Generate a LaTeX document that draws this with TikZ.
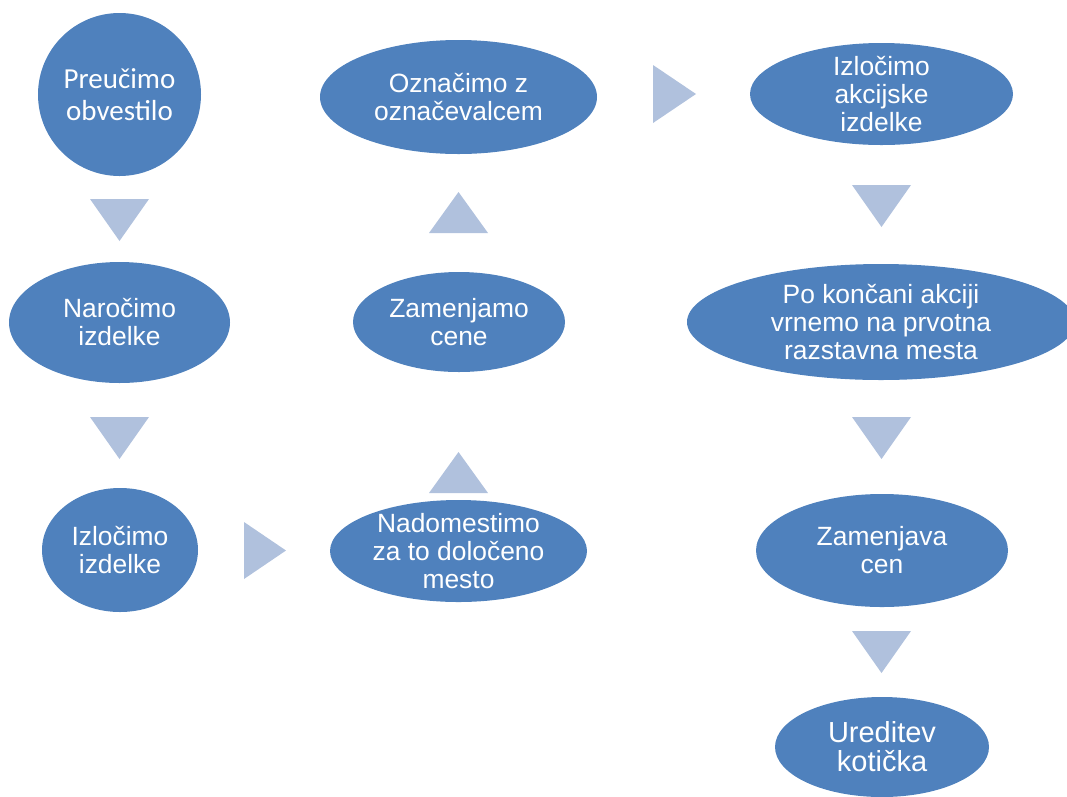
\documentclass[tikz,border=0pt]{standalone}
\usepackage{fontspec}
\setmainfont{Liberation Sans}
\newfontfamily\calib{Carlito}
\usetikzlibrary{shapes.geometric}
\definecolor{blobblue}{RGB}{79,129,189}
\definecolor{arrowblue}{RGB}{176,193,221}
\tikzset{
  blob/.style={ellipse, fill=blobblue, draw=none, inner sep=0pt, outer sep=0pt},
  txt/.style={text=white, align=center, inner sep=0pt, font=\fontsize{26.4}{28}\selectfont},
  tri/.style={fill=arrowblue, draw=none}
}
\begin{document}
\begin{tikzpicture}[x=1pt,y=-1pt]
\useasboundingbox (0,0) rectangle (1067,796);
\clip (0,0) rectangle (1067,796);
% ellipses
\node[blob, minimum width=163, minimum height=163] (n1) at (119.5,94.5) {};
\node[blob, minimum width=221, minimum height=121] (n2) at (119.5,322.5) {};
\node[blob, minimum width=156, minimum height=124] (n3) at (120,550) {};
\node[blob, minimum width=257, minimum height=102] (n4) at (458.5,551) {};
\node[blob, minimum width=212, minimum height=100] (n5) at (459,322) {};
\node[blob, minimum width=277, minimum height=114] (n6) at (458.5,97) {};
\node[blob, minimum width=263, minimum height=102] (n7) at (881.5,94) {};
\node[blob, minimum width=388, minimum height=116] (n8) at (881,322) {};
\node[blob, minimum width=252, minimum height=113] (n9) at (882,550.5) {};
\node[blob, minimum width=214, minimum height=100] (n10) at (882,747) {};
% texts
\node[txt, font=\calib\fontsize{29}{32}\selectfont] (t1) at (n1) {Preučimo\\obvestilo};
\node[txt] (t2) at (n2) {Naročimo\\izdelke};
\node[txt] (t3) at (n3) {Izločimo\\izdelke};
\node[txt] (t4) at (n4) {Nadomestimo\\za to določeno\\mesto};
\node[txt] (t5) at (n5) {Zamenjamo\\cene};
\node[txt] (t6) at (n6) {Označimo z\\označevalcem};
\node[txt] (t7) at (n7) {Izločimo\\akcijske\\izdelke};
\node[txt] (t8) at (n8) {Po končani akciji\\vrnemo na prvotna\\razstavna mesta};
\node[txt] (t9) at (n9) {Zamenjava\\cen};
\node[txt, font=\fontsize{29}{29}\selectfont] (t10) at (n10) {Ureditev\\kotička};
% arrows (triangles)
\fill[tri] (90,199) -- (149,199) -- (119.5,241) -- cycle;
\fill[tri] (90,417) -- (149,417) -- (119.5,459) -- cycle;
\fill[tri] (244,522) -- (286,550.5) -- (244,579) -- cycle;
\fill[tri] (429,493) -- (488,493) -- (458.5,452) -- cycle;
\fill[tri] (429,233) -- (488,233) -- (458.5,192) -- cycle;
\fill[tri] (653,65) -- (696,94) -- (653,123) -- cycle;
\fill[tri] (852,185) -- (911,185) -- (881.5,227) -- cycle;
\fill[tri] (852,417) -- (911,417) -- (881.5,459) -- cycle;
\fill[tri] (852,631) -- (911,631) -- (881.5,673) -- cycle;
\end{tikzpicture}
\end{document}
